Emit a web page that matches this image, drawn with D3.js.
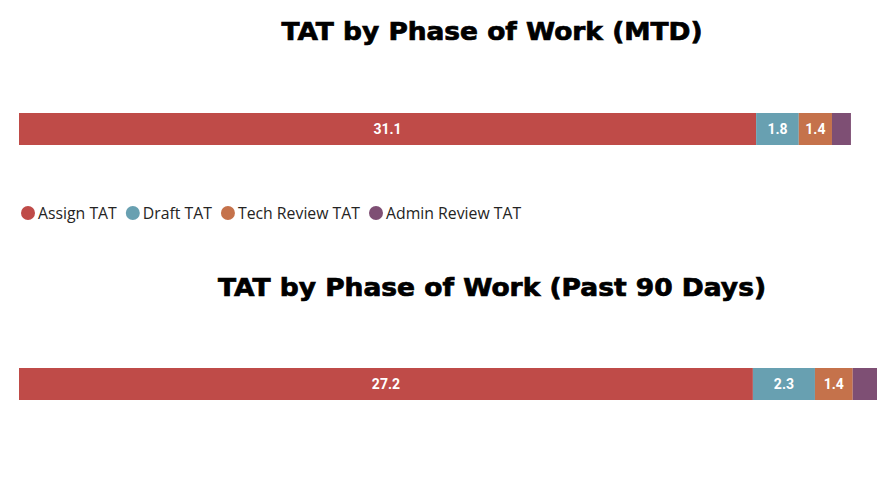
<!DOCTYPE html>
<html>
<head>
<meta charset="utf-8">
<script src="https://cdn.jsdelivr.net/npm/d3@7"></script>
<style>
	body { margin: 0; background: #fff; }
	svg { display: block; }
</style>
</head>
<body>
<svg id="chart" width="884" height="490"></svg>
<script>
	// phases of work (stack order)
	const phases = ["Assign TAT", "Draft TAT", "Tech Review TAT", "Admin Review TAT"];
	const colors = ["#BF4B48", "#68A0B1", "#C5724B", "#7E4F74"];

	const titles = ["TAT by Phase of Work (MTD)", "TAT by Phase of Work (Past 90 Days)"];
	const mtdValues = [31.1, 1.8, 1.4, 0.8];
	const past90Values = [27.2, 2.3, 1.4, 0.9];
	// hidden x axis max for each chart
	const axisMax = [36.2, 31.8];

	const svg = d3.select("#chart");
	const left = 19, right = 877;

	const charts = [
		{title: titles[0], values: mtdValues, max: axisMax[0], titleY: 40, titleW: 421, barY: 113},
		{title: titles[1], values: past90Values, max: axisMax[1], titleY: 296, titleW: 548, barY: 368}
	];

	const barH = 32;

	charts.forEach(function(c) {
		svg.append("text")
			.attr("x", 492)
			.attr("y", c.titleY)
			.attr("text-anchor", "middle")
			.attr("textLength", c.titleW)
			.attr("lengthAdjust", "spacingAndGlyphs")
			.style("font-family", "DejaVu Sans, sans-serif")
			.style("font-weight", "bold")
			.style("font-size", "24px")
			.style("stroke", "#000")
			.style("stroke-width", 0.7)
			.text(c.title);

		let x = d3.scaleLinear()
			.domain([0, c.max])
			.range([left, right]);

		let row = {};
		phases.forEach((p, i) => row[p] = c.values[i]);
		const series = d3.stack().keys(phases)([row]);

		const g = svg.append("g");

		g.selectAll("rect")
			.data(series)
			.join("rect")
			.attr("x", d => x(d[0][0]))
			.attr("y", c.barY)
			.attr("width", d => x(d[0][1]) - x(d[0][0]))
			.attr("height", barH)
			.attr("fill", (d, i) => colors[i]);

		g.selectAll("text")
			.data(series.filter(d => x(d[0][1]) - x(d[0][0]) > 25))
			.join("text")
			.attr("x", d => (x(d[0][0]) + x(d[0][1])) / 2)
			.attr("y", c.barY + barH / 2)
			.attr("dy", "0.36em")
			.attr("text-anchor", "middle")
			.attr("fill", "#fff")
			.style("font-family", "Roboto, sans-serif")
			.style("font-weight", "bold")
			.style("font-size", "14px")
			.text(d => d3.format(".1f")(d[0][1] - d[0][0]));
	});

	// legend
	const legend = svg.append("g").attr("transform", "translate(0,213)");
	let lx = 21;
	phases.forEach(function(p, i) {
		legend.append("circle")
			.attr("cx", lx + 7)
			.attr("cy", 0)
			.attr("r", 7)
			.attr("fill", colors[i]);
		const t = legend.append("text")
			.attr("x", lx + 17)
			.attr("y", 0)
			.attr("dy", "0.35em")
			.attr("fill", "#252423")
			.style("font-family", "Open Sans, sans-serif")
			.style("font-size", "15.8px")
			.text(p);
		lx += 17 + t.node().getComputedTextLength() + 9;
	});
</script>
</body>
</html>
